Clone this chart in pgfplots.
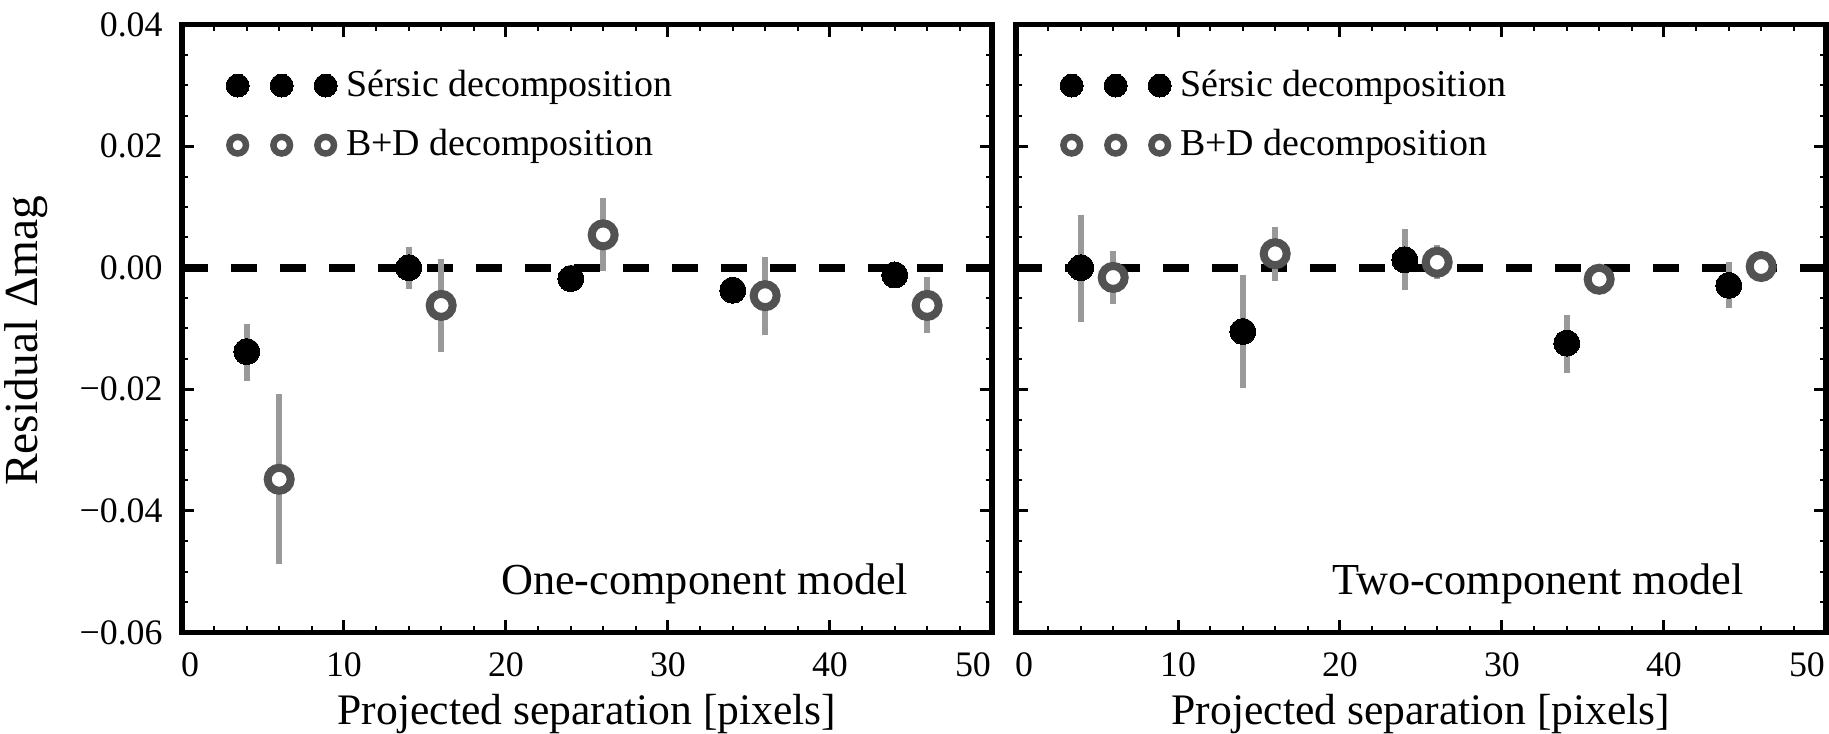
\documentclass[border=0pt]{standalone}
\usepackage{pgfplots}
\pgfplotsset{compat=1.18}
\usepackage{pgfplotstable}
\usepackage{fontspec}
\setmainfont{Liberation Serif}

\definecolor{errgray}{HTML}{999999}
\definecolor{ringgray}{HTML}{525252}

\pgfplotstableread{
x y ep em
4  -0.0138 0.0046 0.0049
14  0.0000 0.0034 0.0035
24 -0.0018 0.0023 0.0020
34 -0.0037 0.0008 0.0008
44 -0.0012 0.0008 0.0008
}\oneSer
\pgfplotstableread{
x y ep em
6  -0.0348 0.0140 0.0139
16 -0.0062 0.0077 0.0076
26  0.0054 0.0060 0.0059
36 -0.0046 0.0064 0.0064
46 -0.0062 0.0047 0.0046
}\oneBD
\pgfplotstableread{
x y ep em
4   0.0000 0.0086 0.0089
14 -0.0105 0.0093 0.0093
24  0.0013 0.0050 0.0050
34 -0.0124 0.0047 0.0049
44 -0.0029 0.0038 0.0037
}\twoSer
\pgfplotstableread{
x y ep em
6  -0.0016 0.0043 0.0044
16  0.0023 0.0044 0.0045
26  0.0009 0.0029 0.0027
36 -0.0019 0.0010 0.0010
46  0.0002 0.0010 0.0010
}\twoBD

\pgfplotsset{
  resid/.style={
    width=81mm, height=60.8mm, scale only axis,
    xmin=0, xmax=50, ymin=-0.06, ymax=0.04,
    scaled x ticks=false, scaled y ticks=false,
    xtick={0,10,20,30,40,50},
    xticklabels={\hspace*{1.6mm}0,10,20,30,40,50\hspace*{3.8mm}},
    ytick={-0.06,-0.04,-0.02,0,0.02,0.04},
    minor x tick num=4, minor y tick num=3,
    tick align=inside, tick pos=both,
    major tick length=1.2mm, minor tick length=0.6mm,
    every major tick/.append style={line width=0.3mm, black},
    every minor tick/.append style={line width=0.2mm, black},
    axis line style={line width=0.57mm, black},
    tick label style={font=\fontsize{10.2}{12}\selectfont},
    x tick label style={yshift=-0.8mm},
    y tick label style={xshift=-0.7mm},
    label style={font=\fontsize{12.4}{14}\selectfont},
    xlabel={Projected separation [pixels]},
    xlabel style={at={(axis description cs:0.5,0)}, anchor=base, yshift=-9.2mm},
    clip=false,
    legend style={at={(axis description cs:0,1)}, anchor=north west,
      xshift=4.35mm, yshift=-4.45mm, draw=none, fill=none, inner sep=0pt,
      row sep=2.8mm, font=\fontsize{10.8}{13}\selectfont,
      nodes={inner xsep=0.9mm, inner ysep=0pt}},
    legend cell align=left,
    legend image code/.code={\draw[#1, only marks] plot coordinates {(0mm,0mm) (4.4mm,0mm) (8.8mm,0mm)};},
  },
  errs/.style={forget plot, draw=none, mark=none,
    error bars/.cd, y dir=both, y explicit, error mark=none,
    error bar style={line width=0.65mm, errgray, solid}},
  ser/.style={forget plot, only marks, mark=*, mark size=1.3mm,
    mark options={draw=black, fill=black, line width=0pt}},
  bd/.style={forget plot, only marks, mark=*, mark size=1.15mm,
    mark options={draw=ringgray, fill=white, line width=0.8mm}},
  zeroline/.style={forget plot, black, line width=0.8mm, dash pattern=on 2.6mm off 2.3mm},
}

\begin{document}
\begin{tikzpicture}
\path[use as bounding box] (-18.2mm,-10.1mm) rectangle (164.7mm,63.25mm);

\begin{axis}[resid, at={(0mm,0mm)},
  yticklabels={−0.06,−0.04,−0.02,0.00,0.02,0.04},
  ylabel={Residual Δmag},
  ylabel style={at={(axis description cs:-0.179,0.48)}, anchor=base, font=\fontsize{13.5}{15}\selectfont},
]
\addplot[zeroline] coordinates {(0,0) (50,0)};
\addplot[errs] table[x=x, y=y, y error plus=ep, y error minus=em] {\oneSer};
\addplot[errs] table[x=x, y=y, y error plus=ep, y error minus=em] {\oneBD};
\addplot[ser] table[x=x, y=y] {\oneSer};
\addplot[bd] table[x=x, y=y] {\oneBD};
\addlegendimage{only marks, mark=*, mark size=1.15mm, mark options={draw=black, fill=black, line width=0pt}}
\addlegendentry{Sérsic decomposition}
\addlegendimage{only marks, mark=*, mark size=0.83mm, mark options={draw=ringgray, fill=white, line width=0.65mm}}
\addlegendentry{B+D decomposition}
\node[anchor=base east, inner sep=0pt, font=\fontsize{12.6}{15}\selectfont] at (axis description cs:0.8975,0.0625) {One-component model};
\end{axis}

\begin{axis}[resid, at={(83.4mm,0mm)},
  yticklabels={},
]
\addplot[zeroline] coordinates {(0,0) (50,0)};
\addplot[errs] table[x=x, y=y, y error plus=ep, y error minus=em] {\twoSer};
\addplot[errs] table[x=x, y=y, y error plus=ep, y error minus=em] {\twoBD};
\addplot[ser] table[x=x, y=y] {\twoSer};
\addplot[bd] table[x=x, y=y] {\twoBD};
\addlegendimage{only marks, mark=*, mark size=1.15mm, mark options={draw=black, fill=black, line width=0pt}}
\addlegendentry{Sérsic decomposition}
\addlegendimage{only marks, mark=*, mark size=0.83mm, mark options={draw=ringgray, fill=white, line width=0.65mm}}
\addlegendentry{B+D decomposition}
\node[anchor=base east, inner sep=0pt, font=\fontsize{12.6}{15}\selectfont] at (axis description cs:0.899,0.0625) {Two-component model};
\end{axis}
\end{tikzpicture}
\end{document}
